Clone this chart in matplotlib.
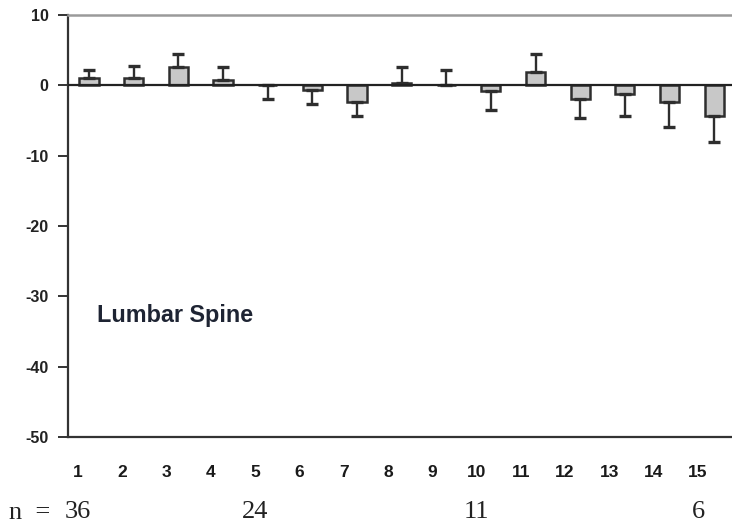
import matplotlib
matplotlib.use("Agg")
import matplotlib.pyplot as plt
import numpy as np

categories = list(range(1, 16))
values = [1.1, 1.1, 2.6, 0.7, 0.0, -0.7, -2.3, 0.4, 0.0, -0.8, 1.9, -2.0, -1.2, -2.4, -4.3]
errors = [1.1, 1.6, 1.9, 1.9, 2.0, 2.0, 2.0, 2.2, 2.2, 2.7, 2.6, 2.7, 3.1, 3.5, 3.8]
err_dir = [1, 1, 1, 1, -1, -1, -1, 1, 1, -1, 1, -1, -1, -1, -1]
x_labels = [str(c) for c in categories]
n_positions = [1, 5, 10, 15]
n_labels = ["36", "24", "11", "6"]
y_ticks = [10, 0, -10, -20, -30, -40, -50]

SANS = "Liberation Sans"
SERIF = "Liberation Serif"

fig = plt.figure(figsize=(7.32, 5.25), dpi=100)
ax = fig.add_axes([68/732, 88/525, (732-68)/732, 422/525])

x = np.array(categories, dtype=float)
v = np.array(values)
e = np.array(errors)
d = np.array(err_dir)
lower = np.where(d < 0, e, 0)
upper = np.where(d > 0, e, 0)

ax.bar(x, v, width=0.43, color="#c8c8c8", edgecolor="#2e2e2e", linewidth=1.8, zorder=2)
ax.errorbar(x, v, yerr=[lower, upper], fmt="none", ecolor="#2e2e2e",
            elinewidth=1.7, capsize=4, capthick=2.4, zorder=3)
ax.axhline(0, color="#222222", linewidth=1.6, zorder=4)

ax.set_xlim(0.53, 15.4)
ax.set_ylim(-50, 10)
ax.set_yticks(y_ticks)
ax.set_yticklabels([str(t) for t in y_ticks], fontsize=11.5, fontweight="bold",
                   color="#222222", family=SANS)
ax.tick_params(axis="y", direction="out", length=7, width=1.4, color="#333333", pad=7)
ax.set_xticks([])

for s in ["left", "bottom"]:
    ax.spines[s].set_color("#333333")
    ax.spines[s].set_linewidth(1.6)
ax.spines["top"].set_color("#9a9a9a")
ax.spines["top"].set_linewidth(1.8)
ax.spines["right"].set_visible(False)

ax.text(1.18, -32.7, "Lumbar Spine", fontsize=16.8, fontweight="bold", family=SANS,
        color="#1e2433", ha="left", va="center")

trans = ax.get_xaxis_transform()
for xi, lab in zip(x, x_labels):
    ax.text(xi - 0.25 - 0.008 * (xi - 1), -0.083, lab, transform=trans, ha="center",
            va="center", fontsize=12.5, fontweight="bold", family=SANS,
            color="#1a1a1a", clip_on=False)

for xi, lab in zip(n_positions, n_labels):
    ax.text(xi - 0.25 - 0.008 * (xi - 1), -0.178, lab, transform=trans, ha="center",
            va="center", fontsize=19, family=SERIF, color="#222222", clip_on=False)
fig.text(9/732, 1 - 513/525, "n  =", ha="left", va="center",
         fontsize=19, family=SERIF, color="#222222")

fig.savefig("out.png", dpi=100)
